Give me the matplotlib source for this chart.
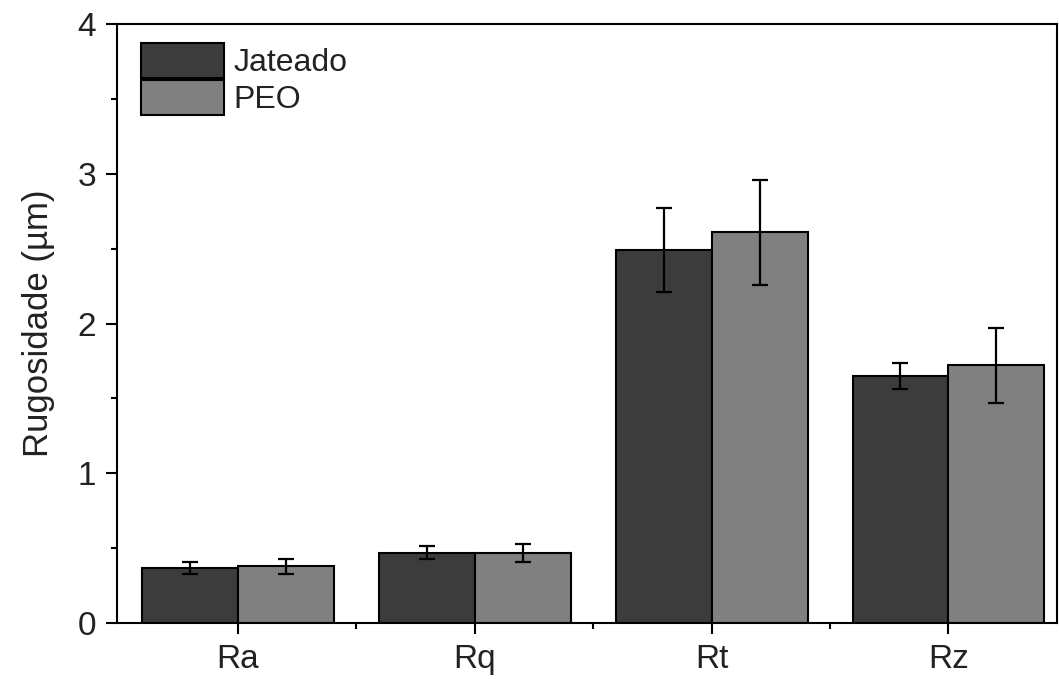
import numpy as np
import matplotlib
matplotlib.use("Agg")
import matplotlib.pyplot as plt

plt.rcParams['font.family'] = ['Liberation Sans', 'DejaVu Sans']

# data
categories = ['Ra', 'Rq', 'Rt', 'Rz']
jateado = [0.37, 0.47, 2.49, 1.65]
jateado_err = [0.04, 0.045, 0.28, 0.085]
peo = [0.38, 0.47, 2.61, 1.72]
peo_err = [0.05, 0.06, 0.35, 0.25]
series_names = ['Jateado', 'PEO']

fig = plt.figure(figsize=(10.59, 6.79), dpi=100)
ax = fig.add_axes([0.1105, 0.0825, 0.888, 0.882])

x = np.arange(len(categories))
w = 0.405
ekw = dict(elinewidth=1.6, capthick=1.6, ecolor='black')
ax.bar(x - w/2, jateado, w, yerr=jateado_err, capsize=5.5, color='#3c3c3c',
       edgecolor='black', linewidth=1.5, label=series_names[0], error_kw=ekw)
ax.bar(x + w/2, peo, w, yerr=peo_err, capsize=5.5, color='#808080',
       edgecolor='black', linewidth=1.5, label=series_names[1], error_kw=ekw)

ax.set_xlim(-0.51, 3.46)
ax.set_ylim(0, 4)
ax.set_xticks(x)
ax.set_xticklabels(categories)
ax.set_xticks(x[:-1] + 0.5, minor=True)
ax.set_yticks([0, 1, 2, 3, 4])
ax.set_yticks([0.5, 1.5, 2.5, 3.5], minor=True)
ax.set_ylabel('Rugosidade (µm)', fontsize=25, color='#222222', labelpad=16)

for s in ax.spines.values():
    s.set_linewidth(1.5)
ax.tick_params(which='major', direction='out', length=8, width=1.5,
               labelsize=24, labelcolor='#222222', pad=7)
ax.tick_params(which='minor', direction='out', length=4, width=1.5)

leg = ax.legend(loc='upper left', bbox_to_anchor=(0.025, 0.968), frameon=False,
                fontsize=23, handlelength=2.6, handleheight=1.3, labelspacing=0.05,
                handletextpad=0.3, borderpad=0, borderaxespad=0)
for t in leg.get_texts():
    t.set_color('#222222')

fig.savefig('out.png', dpi=100)
